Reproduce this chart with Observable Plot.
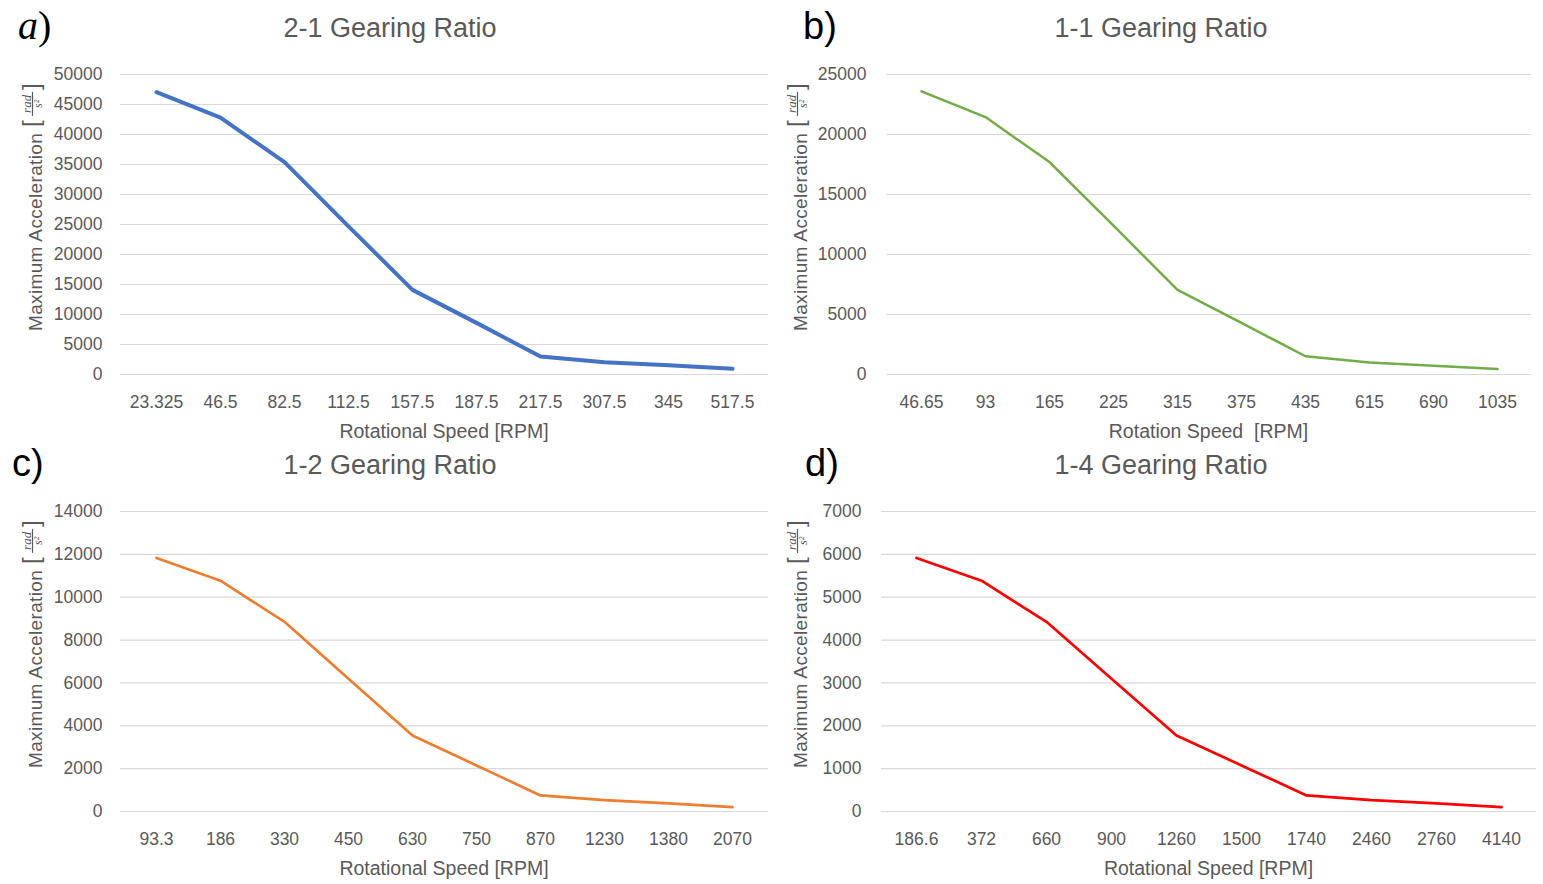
<!DOCTYPE html>
<html>
<head>
<meta charset="utf-8">
<script src="https://cdn.jsdelivr.net/npm/d3@7"></script>
<script src="https://cdn.jsdelivr.net/npm/@observablehq/plot@0.6"></script>
<style>
  html, body { margin: 0; padding: 0; background: #fff; }
  #wrap { position: relative; width: 1543px; height: 884px; overflow: hidden; background: #fff; }
  .panel { position: absolute; }
</style>
</head>
<body>
<div id="wrap"></div>
<script>
// ---- data ----
const speedA = ["23.325","46.5","82.5","112.5","157.5","187.5","217.5","307.5","345","517.5"];
const accelA = [47050, 42800, 35400, 24700, 14100, 8600, 3000, 2050, 1550, 950];

const speedB = ["46.65","93","165","225","315","375","435","615","690","1035"];
const accelB = [23600, 21450, 17700, 12400, 7050, 4300, 1520, 1000, 720, 450];

const speedC = ["93.3","186","330","450","630","750","870","1230","1380","2070"];
const accelC = [11830, 10770, 8850, 6200, 3550, 2150, 750, 530, 375, 200];

const speedD = ["186.6","372","660","900","1260","1500","1740","2460","2760","4140"];
const accelD = [5915, 5385, 4425, 3100, 1775, 1075, 375, 265, 190, 100];

const ticksA = [0,5000,10000,15000,20000,25000,30000,35000,40000,45000,50000];
const ticksB = [0,5000,10000,15000,20000,25000];
const ticksC = [0,2000,4000,6000,8000,10000,12000,14000];
const ticksD = [0,1000,2000,3000,4000,5000,6000,7000];

const titles = ["2-1 Gearing Ratio", "1-1 Gearing Ratio", "1-2 Gearing Ratio", "1-4 Gearing Ratio"];
const letters = ["a", "b", "c", "d"];
const xLabels = ["Rotational Speed [RPM]", "Rotation Speed  [RPM]", "Rotational Speed [RPM]", "Rotational Speed [RPM]"];
const yLabel = "Maximum Acceleration";
const colors = ["#4472C4", "#70AD47", "#ED7D31", "#FF0000"];

const FONT = "'Liberation Sans', Arial, sans-serif";
const SERIF = "'Liberation Serif', 'DejaVu Serif', serif";
const GREY = "#595959";

const panels = [
  {speeds: speedA, accel: accelA, ticks: ticksA, color: colors[0], sw: 4,   left: 0,   top: 0,   width: 771, height: 440, ml: 120, mr: 3,  ylx: 42, letterX: 18, italic: true},
  {speeds: speedB, accel: accelB, ticks: ticksB, color: colors[1], sw: 2.5, left: 771, top: 0,   width: 772, height: 440, ml: 115, mr: 12, ylx: 36, letterX: 32, italic: false},
  {speeds: speedC, accel: accelC, ticks: ticksC, color: colors[2], sw: 2.7, left: 0,   top: 437, width: 771, height: 447, ml: 120, mr: 3,  ylx: 42, letterX: 12, italic: false},
  {speeds: speedD, accel: accelD, ticks: ticksD, color: colors[3], sw: 2.7, left: 771, top: 437, width: 772, height: 447, ml: 110, mr: 7,  ylx: 36, letterX: 34, italic: false}
];

const wrap = document.getElementById("wrap");

panels.forEach((p, i) => {
  const data = p.speeds.map((s, k) => ({speed: s, accel: p.accel[k]}));
  const chart = Plot.plot({
    width: p.width,
    height: p.height,
    marginLeft: p.ml,
    marginRight: p.mr,
    marginTop: 74,
    marginBottom: p.height - 374,
    style: {fontFamily: FONT, fontSize: "17.5px", color: GREY, background: "transparent", overflow: "visible"},
    x: {type: "point", domain: p.speeds, padding: 0.5},
    y: {domain: [0, p.ticks[p.ticks.length - 1]]},
    marks: [
      Plot.gridY(p.ticks, {stroke: "#d9d9d9", strokeOpacity: 1, strokeWidth: 1.2}),
      Plot.axisY(p.ticks, {tickSize: 0, tickPadding: i % 2 ? 20 : 18, tickFormat: d => String(d), label: null}),
      Plot.axisX({tickSize: 0, tickPadding: 21, label: null}),
      Plot.line(data, {x: "speed", y: "accel", stroke: p.color, strokeWidth: p.sw, strokeLinejoin: "round", strokeLinecap: "round"})
    ]
  });
  const div = document.createElement("div");
  div.className = "panel";
  div.style.left = p.left + "px";
  div.style.top = p.top + "px";
  div.appendChild(chart);
  wrap.appendChild(div);

  const svg = d3.select(chart);

  // title
  svg.append("text")
    .attr("x", 390).attr("y", 37)
    .attr("text-anchor", "middle")
    .style("font-family", FONT).style("font-size", "27px").attr("fill", GREY)
    .text(titles[i]);

  // panel letter
  const lt = svg.append("text")
    .attr("x", p.letterX).attr("y", 39)
    .attr("text-anchor", "start")
    .attr("fill", "#000");
  if (p.italic) {
    lt.style("font-size", "40px");
    lt.append("tspan").style("font-family", SERIF).style("font-style", "italic").text(letters[i]);
    lt.append("tspan").style("font-family", SERIF).text(")");
  } else {
    lt.style("font-size", "38px").style("font-family", FONT).text(letters[i] + ")");
  }

  // x axis label
  svg.append("text")
    .attr("x", (p.ml + p.width - p.mr) / 2).attr("y", 438)
    .attr("text-anchor", "middle")
    .style("font-family", FONT).style("font-size", "19.5px").attr("fill", GREY)
    .text(xLabels[i]);

  // y axis label with fraction unit
  const g = svg.append("g").attr("transform", `translate(${p.ylx},331) rotate(-90)`)
    .attr("text-anchor", "start")
    .style("font-family", FONT).attr("fill", GREY);
  const main = g.append("text").attr("x", 0).attr("y", 0)
    .attr("text-anchor", "start")
    .style("font-size", "19px").style("letter-spacing", "0.35px").text(yLabel);
  const L = main.node().getComputedTextLength();
  const bx = L + 6;
  g.append("text").attr("x", bx).attr("y", -3).attr("text-anchor", "start").style("font-size", "24px").text("[");
  const cx = L + 29;
  g.append("text").attr("x", cx).attr("y", -11.5).attr("text-anchor", "middle")
    .style("font-size", "13px").style("font-style", "italic").style("font-family", SERIF).text("rad");
  g.append("line").attr("x1", cx - 12).attr("x2", cx + 12).attr("y1", -9.5).attr("y2", -9.5)
    .attr("stroke", GREY).attr("stroke-width", 1.2);
  g.append("text").attr("x", cx).attr("y", -0.5).attr("text-anchor", "middle")
    .style("font-size", "12px").style("font-style", "italic").style("font-family", SERIF).text("s²");
  g.append("text").attr("x", cx + 14).attr("y", -3).attr("text-anchor", "start").style("font-size", "24px").text("]");
});
</script>
</body>
</html>
